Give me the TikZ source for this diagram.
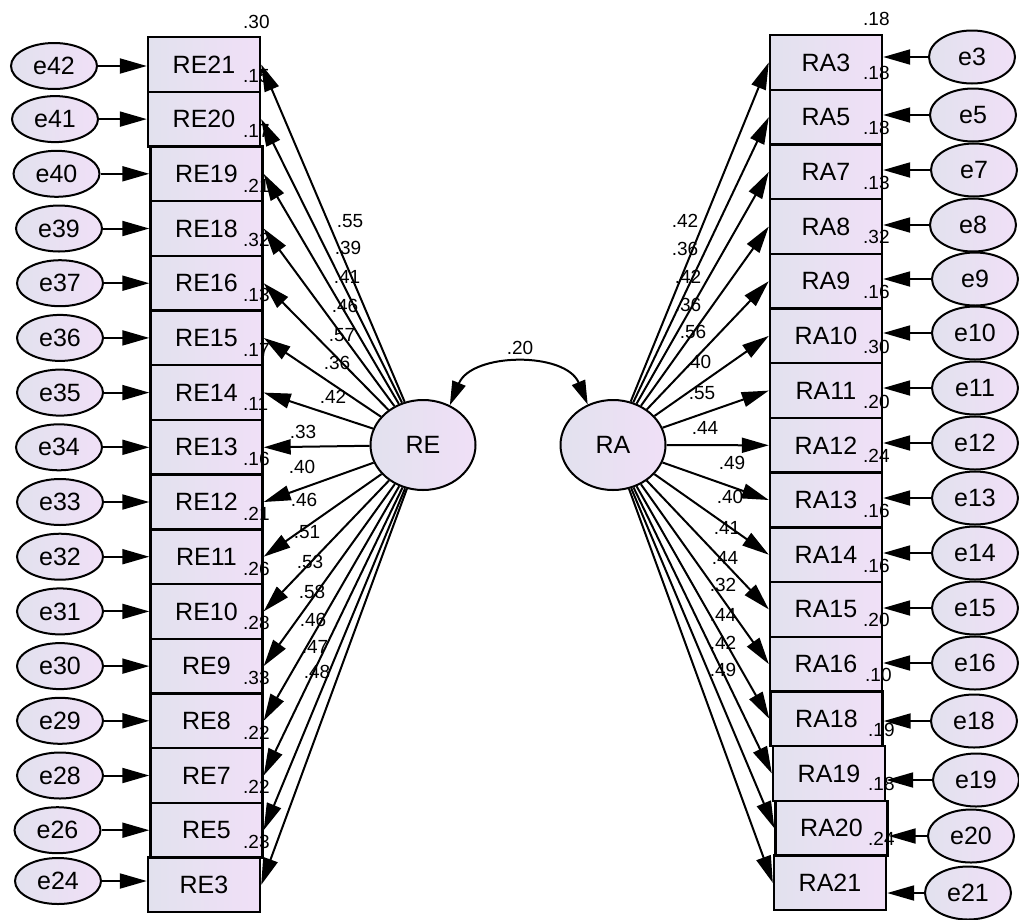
\documentclass[tikz,border=0pt]{standalone}
\usepackage{fontspec}
\setmainfont{Liberation Sans}
\usetikzlibrary{arrows.meta,shapes.geometric}
\definecolor{lavA}{RGB}{226,225,238}
\definecolor{lavB}{RGB}{240,224,247}
\begin{document}
\begin{tikzpicture}[x=1pt,y=-1pt,
  obs/.style={draw,line width=2.4pt,minimum width=112pt,minimum height=54.7pt,inner sep=0pt,
    left color=lavA,right color=lavB,font=\fontsize{25}{29}\selectfont},
  errl/.style={draw,ellipse,line width=2pt,minimum width=86pt,minimum height=46pt,inner sep=0pt,
    left color=lavA,right color=lavB,font=\fontsize{25}{29}\selectfont},
  errr/.style={draw,ellipse,line width=2pt,minimum width=86pt,minimum height=53pt,inner sep=0pt,
    left color=lavA,right color=lavB,font=\fontsize{25}{29}\selectfont},
  lat/.style={draw,ellipse,line width=2pt,minimum width=105pt,minimum height=90pt,inner sep=0pt,
    left color=lavA,right color=lavB,font=\fontsize{25}{29}\selectfont},
  arr/.style={line width=2pt,-{Triangle[length=27pt,width=15pt]}},
  darr/.style={line width=2pt,{Triangle[length=24pt,width=14pt]}-{Triangle[length=24pt,width=14pt]}},
  lab/.style={font=\fontsize{19}{21}\selectfont,inner sep=0pt},
]
\useasboundingbox[fill=white] (0,0) rectangle (1019,919);

% latent variables
\node[lat] (RE) at (423,445) {RE};
\node[lat] (RA) at (613,445) {RA};

% left indicators
\foreach \n/\e/\bx/\by/\ex/\ey/\r in {
  RE21/e42/204/64.4/54/66/.30,
  RE20/e41/204/119.1/55/119.1/.15,
  RE19/e40/206.5/173.8/56.5/173.8/.17,
  RE18/e39/206.5/228.5/59/228.5/.21,
  RE16/e37/206.5/283.2/60/283.2/.32,
  RE15/e36/206.5/337.9/60/337.9/.13,
  RE14/e35/206.5/392.6/60/392.6/.17,
  RE13/e34/206.5/447.3/59/447.3/.11,
  RE12/e33/206.5/502/60/502/.16,
  RE11/e32/206.5/556.7/60/556.7/.21,
  RE10/e31/206.5/611.4/60/611.4/.26,
  RE9/e30/206.5/666.1/60/666.1/.28,
  RE8/e29/206.5/720.8/60/720.8/.33,
  RE7/e28/206.5/775.5/60/775.5/.22,
  RE5/e26/206.5/830.2/57.5/830.2/.22,
  RE3/e24/204/884.9/58/881/.23}
{
  \node[obs] (\n) at (\bx,\by) {\n};
  \node[errl] (\e) at (\ex,\ey) {\e};
  \node[lab,anchor=west] (r\n) at (243,\by-42.85) {\r};
}

% right indicators
\foreach \n/\e/\bx/\by/\ex/\ey/\r/\rx in {
  RA3/e3/826/62.4/972/57/.18/863,
  RA5/e5/826/117.1/973/115/.18/863,
  RA7/e7/826/171.8/974/170/.18/863,
  RA8/e8/826/226.5/973/225/.13/863,
  RA9/e9/826/281.2/975/279/.32/863,
  RA10/e10/826/335.9/975/333/.16/863,
  RA11/e11/826/390.6/975/388/.30/863,
  RA12/e12/826/445.3/975/443/.20/863,
  RA13/e13/826/500/975/498/.24/863,
  RA14/e14/826/554.7/975/553/.16/863,
  RA15/e15/826/609.4/975/608/.16/863,
  RA16/e16/826/664.1/975/663/.20/863,
  RA18/e18/826.5/718.8/974/721/.10/865,
  RA19/e19/829/773.5/976/780/.19/868,
  RA20/e20/831.5/828.2/971/836/.18/868,
  RA21/e21/830/882.9/968/893/.24/868}
{
  \node[obs] (\n) at (\bx,\by) {\n};
  \node[errr] (\e) at (\ex,\ey) {\e};
  \node[lab,anchor=west] (r\n) at (\rx,\by-43.85) {\r};
}

% loading labels (left)
\foreach \x/\y/\t [count=\i] in {350/221/.55,348/248/.39,347/277/.41,345/306/.46,342/335/.57,
  337/363/.36,333/397/.42,303/432/.33,302/467/.40,304/500/.46,307/532/.51,310/562/.53,
  312/592/.58,313/620/.46,315/647/.47,317/672/.48}
  \node[lab] (ll\i) at (\x,\y) {\t};

% loading labels (right)
\foreach \x/\y/\t [count=\i] in {685/221/.42,685/249/.36,688/277/.42,688/305/.36,693/332/.56,
  698/362/.40,702/393/.55,705/428/.44,732/463/.49,730/497/.40,727/528/.41,725/558/.44,
  723/585/.32,723/615/.44,723/643/.42,723/670/.49}
  \node[lab] (rl\i) at (\x,\y) {\t};

% error arrows left
\foreach \n/\e in {RE21/e42,RE20/e41,RE19/e40,RE18/e39,RE16/e37,RE15/e36,RE14/e35,RE13/e34,
  RE12/e33,RE11/e32,RE10/e31,RE9/e30,RE8/e29,RE7/e28,RE5/e26,RE3/e24}
  \draw[arr] (\e.east) -- (\e.east -| \n.west);

% error arrows right
\foreach \n/\e in {RA3/e3,RA5/e5,RA7/e7,RA8/e8,RA9/e9,RA10/e10,RA11/e11,RA12/e12,RA13/e13,
  RA14/e14,RA15/e15,RA16/e16,RA18/e18,RA19/e19,RA20/e20,RA21/e21}
  \draw[arr] (\e.west) -- (\e.west -| \n.east);

% loadings
\foreach \n in {RE21,RE20,RE19,RE18,RE16,RE15,RE14,RE13,RE12,RE11,RE10,RE9,RE8,RE7,RE5,RE3}
  \draw[arr] (RE) -- (\n.east);
\foreach \n in {RA3,RA5,RA7,RA8,RA9,RA10,RA11,RA12,RA13,RA14,RA15,RA16,RA18,RA19,RA20,RA21}
  \draw[arr] (RA) -- (\n.west);

% covariance
\draw[darr] (RE.56) .. controls +(22,-53) and +(-22,-53) .. (RA.122);
\node[lab] (cov) at (520,348) {.20};
\end{tikzpicture}
\end{document}
